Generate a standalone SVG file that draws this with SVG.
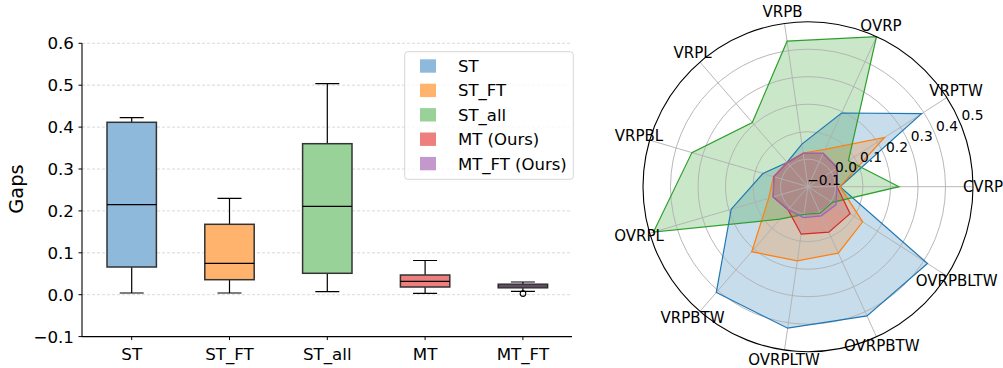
<svg xmlns="http://www.w3.org/2000/svg" width="1003" height="368" viewBox="0 0 1003 368">
<style>
text{font-family:"DejaVu Sans","Liberation Sans",sans-serif;fill:#000}
.tk{font-size:16.7px}
.tl{text-anchor:end}
.xl{text-anchor:middle}
.grid{stroke:#cfcfcf;stroke-width:0.8;stroke-dasharray:3,2}
.spine{stroke:#000;stroke-width:1.1;fill:none}
.box{stroke:#333;stroke-width:1.5}
.wh{stroke:#000;stroke-width:1.2;fill:none}
.med{stroke:#000;stroke-width:1.2}
.pg{stroke:#b0b0b0;stroke-width:0.9;fill:none}
.rl{font-size:15px;text-anchor:middle}
.rt{font-size:13.8px;text-anchor:middle}
.lg{font-size:16.5px}
</style>

<!-- Box plot panel -->
<g id="boxplot-axes">
  <g id="gridlines">
    <line class="grid" x1="82" y1="43.3" x2="572" y2="43.3"/>
    <line class="grid" x1="82" y1="85.2" x2="572" y2="85.2"/>
    <line class="grid" x1="82" y1="127.1" x2="572" y2="127.1"/>
    <line class="grid" x1="82" y1="169" x2="572" y2="169"/>
    <line class="grid" x1="82" y1="210.9" x2="572" y2="210.9"/>
    <line class="grid" x1="82" y1="252.8" x2="572" y2="252.8"/>
    <line class="grid" x1="82" y1="294.7" x2="572" y2="294.7"/>
  </g>
  <g id="yticks">
    <line x1="78.5" y1="43.3" x2="82" y2="43.3" stroke="#000"/>
    <line x1="78.5" y1="85.2" x2="82" y2="85.2" stroke="#000"/>
    <line x1="78.5" y1="127.1" x2="82" y2="127.1" stroke="#000"/>
    <line x1="78.5" y1="169" x2="82" y2="169" stroke="#000"/>
    <line x1="78.5" y1="210.9" x2="82" y2="210.9" stroke="#000"/>
    <line x1="78.5" y1="252.8" x2="82" y2="252.8" stroke="#000"/>
    <line x1="78.5" y1="294.7" x2="82" y2="294.7" stroke="#000"/>
    <line x1="78.5" y1="336.6" x2="82" y2="336.6" stroke="#000"/>
    <text class="tk tl" x="74" y="49.4">0.6</text>
    <text class="tk tl" x="74" y="91.3">0.5</text>
    <text class="tk tl" x="74" y="133.2">0.4</text>
    <text class="tk tl" x="74" y="175.1">0.3</text>
    <text class="tk tl" x="74" y="217">0.2</text>
    <text class="tk tl" x="74" y="258.9">0.1</text>
    <text class="tk tl" x="74" y="300.8">0.0</text>
    <text class="tk tl" x="74" y="342.7">−0.1</text>
  </g>
  <text id="ylabel" x="16.7" y="189" font-size="19.4" text-anchor="middle" dominant-baseline="central" transform="rotate(-90 16.7 189)">Gaps</text>
  <g id="xticks">
    <line x1="131.7" y1="336.6" x2="131.7" y2="340.1" stroke="#000"/>
    <line x1="229.5" y1="336.6" x2="229.5" y2="340.1" stroke="#000"/>
    <line x1="327.3" y1="336.6" x2="327.3" y2="340.1" stroke="#000"/>
    <line x1="425.1" y1="336.6" x2="425.1" y2="340.1" stroke="#000"/>
    <line x1="522.9" y1="336.6" x2="522.9" y2="340.1" stroke="#000"/>
    <text class="tk xl" x="131.7" y="359.5">ST</text>
    <text class="tk xl" x="229.5" y="359.5">ST_FT</text>
    <text class="tk xl" x="327.3" y="359.5">ST_all</text>
    <text class="tk xl" x="425.1" y="359.5">MT</text>
    <text class="tk xl" x="522.9" y="359.5">MT_FT</text>
  </g>
  <line class="spine" x1="82" y1="43.3" x2="82" y2="336.6"/>
  <line class="spine" x1="82" y1="336.6" x2="572" y2="336.6"/>
</g>

<g id="box-ST">
  <path class="wh" d="M131.7 122.3V117.7M119.7 117.7H143.7M131.7 267V293M119.7 293H143.7"/>
  <rect class="box" x="107" y="122.3" width="49.4" height="144.7" fill="#8fb9da"/>
  <line class="med" x1="107" y1="204.7" x2="156.4" y2="204.7"/>
</g>
<g id="box-ST_FT">
  <path class="wh" d="M229.5 224.3V198.3M217.5 198.3H241.5M229.5 279.7V293M217.5 293H241.5"/>
  <rect class="box" x="204.8" y="224.3" width="49.4" height="55.4" fill="#ffb36c"/>
  <line class="med" x1="204.8" y1="263.3" x2="254.2" y2="263.3"/>
</g>
<g id="box-ST_all">
  <path class="wh" d="M327.3 143.7V83.7M315.3 83.7H339.3M327.3 273.3V291.7M315.3 291.7H339.3"/>
  <rect class="box" x="302.6" y="143.7" width="49.4" height="129.6" fill="#98d298"/>
  <line class="med" x1="302.6" y1="206.3" x2="352" y2="206.3"/>
</g>
<g id="box-MT">
  <path class="wh" d="M425.1 275V260.5M413.1 260.5H437.1M425.1 287V293.3M413.1 293.3H437.1"/>
  <rect class="box" x="400.4" y="275" width="49.4" height="12" fill="#ef7f7f"/>
  <line class="med" x1="400.4" y1="281.3" x2="449.8" y2="281.3"/>
</g>
<g id="box-MT_FT">
  <path class="wh" d="M522.9 284.2V282M510.9 282H534.9M522.9 287.8V291.3M510.9 291.3H534.9"/>
  <rect class="box" x="498.2" y="284.2" width="49.4" height="3.6" fill="#c398cb"/>
  <line class="med" x1="498.2" y1="286" x2="547.6" y2="286"/>
  <circle cx="523" cy="293.6" r="2.8" fill="none" stroke="#000" stroke-width="1.1"/>
</g>

<g id="legend">
  <rect x="404.7" y="51.7" width="168.6" height="127.6" rx="3" fill="#fff" fill-opacity="0.8" stroke="#d6d6d6" stroke-width="1"/>
  <rect x="420" y="59.3" width="16" height="13.4" fill="#8fb9da"/>
  <rect x="420" y="83.7" width="16" height="13.4" fill="#ffb36c"/>
  <rect x="420" y="108.1" width="16" height="13.4" fill="#98d298"/>
  <rect x="420" y="132.5" width="16" height="13.4" fill="#ef7f7f"/>
  <rect x="420" y="156.9" width="16" height="13.4" fill="#c398cb"/>
  <text class="lg" x="458" y="71.9">ST</text>
  <text class="lg" x="458" y="96.3">ST_FT</text>
  <text class="lg" x="458" y="120.7">ST_all</text>
  <text class="lg" x="458" y="145.1">MT (Ours)</text>
  <text class="lg" x="458" y="169.5">MT_FT (Ours)</text>
</g>

<!-- Radar panel -->
<g id="radar-fills">
  <polygon fill="#1f77b4" fill-opacity="0.25" points="840,186.7 921.6,113.7 841.6,113 801.9,144.1 787,162.5 762.9,173.5 731.2,209.2 716.3,292.5 787.7,328.2 867,315.9 927.5,263.5"/>
  <polygon fill="#ff7f0e" fill-opacity="0.25" points="840,186.7 884.6,137.5 825,149.4 803.2,153 787,162.5 773.5,176.6 768.7,198.2 751.7,251.7 797.3,260.9 838.3,253.1 862.7,221.8"/>
  <polygon fill="#2ca02c" fill-opacity="0.25" points="899,186.7 848.4,160.8 876.5,36.6 787.1,41.2 752.3,122.5 691.9,152.6 653.5,232.1 779.8,219.2 804,214.4 820,213.1 832.4,202.4"/>
  <polygon fill="#d62728" fill-opacity="0.25" points="837,186.7 837.4,167.8 823.2,153.3 803.2,153.3 787.2,162.7 773.8,176.7 773.2,196.9 788,209.7 801.2,234.2 828.8,232.2 850.1,213.7"/>
  <polygon fill="#9467bd" fill-opacity="0.25" points="837,186.7 837.4,167.8 823.2,153.3 803.2,153.3 787.2,162.7 773.8,176.7 773.2,196.9 788,209.7 803.6,217.6 821.3,215.8 836.1,204.8"/>
</g>
<g id="radar-grid">
  <circle class="pg" cx="808" cy="186.7" r="27.5"/>
  <circle class="pg" cx="808" cy="186.7" r="55"/>
  <circle class="pg" cx="808" cy="186.7" r="82.5"/>
  <circle class="pg" cx="808" cy="186.7" r="110"/>
  <circle class="pg" cx="808" cy="186.7" r="137.5"/>
  <path class="pg" d="M808 186.7L973 186.7M808 186.7L946.8 97.5M808 186.7L876.5 36.6M808 186.7L784.5 23.4M808 186.7L699.9 62M808 186.7L649.7 140.2M808 186.7L649.7 233.2M808 186.7L699.9 311.4M808 186.7L784.5 350M808 186.7L876.5 336.8M808 186.7L946.8 275.9"/>
</g>
<g id="radar-lines" fill="none" stroke-width="1.2" stroke-linejoin="miter">
  <polygon stroke="#1f77b4" points="840,186.7 921.6,113.7 841.6,113 801.9,144.1 787,162.5 762.9,173.5 731.2,209.2 716.3,292.5 787.7,328.2 867,315.9 927.5,263.5"/>
  <polygon stroke="#ff7f0e" points="840,186.7 884.6,137.5 825,149.4 803.2,153 787,162.5 773.5,176.6 768.7,198.2 751.7,251.7 797.3,260.9 838.3,253.1 862.7,221.8"/>
  <polygon stroke="#2ca02c" points="899,186.7 848.4,160.8 876.5,36.6 787.1,41.2 752.3,122.5 691.9,152.6 653.5,232.1 779.8,219.2 804,214.4 820,213.1 832.4,202.4"/>
  <polygon stroke="#d62728" points="837,186.7 837.4,167.8 823.2,153.3 803.2,153.3 787.2,162.7 773.8,176.7 773.2,196.9 788,209.7 801.2,234.2 828.8,232.2 850.1,213.7"/>
  <polygon stroke="#9467bd" points="837,186.7 837.4,167.8 823.2,153.3 803.2,153.3 787.2,162.7 773.8,176.7 773.2,196.9 788,209.7 803.6,217.6 821.3,215.8 836.1,204.8"/>
</g>
<circle id="radar-spine" cx="808" cy="186.7" r="165" fill="none" stroke="#000" stroke-width="1.1"/>
<g id="radar-rticks">
  <text class="rt" x="824" y="185">−0.1</text>
  <text class="rt" x="846" y="172.3">0.0</text>
  <text class="rt" x="871" y="161.7">0.1</text>
  <text class="rt" x="897" y="151.7">0.2</text>
  <text class="rt" x="921.7" y="141">0.3</text>
  <text class="rt" x="947" y="131">0.4</text>
  <text class="rt" x="972.5" y="120">0.5</text>
</g>
<g id="radar-labels">
  <text class="rl" x="983" y="192.2">CVRP</text>
  <text class="rl" x="956" y="95.5">VRPTW</text>
  <text class="rl" x="881" y="30.5">OVRP</text>
  <text class="rl" x="782.5" y="17.2">VRPB</text>
  <text class="rl" x="692.5" y="57.8">VRPL</text>
  <text class="rl" x="639" y="141.2">VRPBL</text>
  <text class="rl" x="639" y="240.5">OVRPL</text>
  <text class="rl" x="692.5" y="323.2">VRPBTW</text>
  <text class="rl" x="784" y="364.5">OVRPLTW</text>
  <text class="rl" x="881.7" y="350.5">OVRPBTW</text>
  <text class="rl" x="956.7" y="285.5">OVRPBLTW</text>
</g>
</svg>
